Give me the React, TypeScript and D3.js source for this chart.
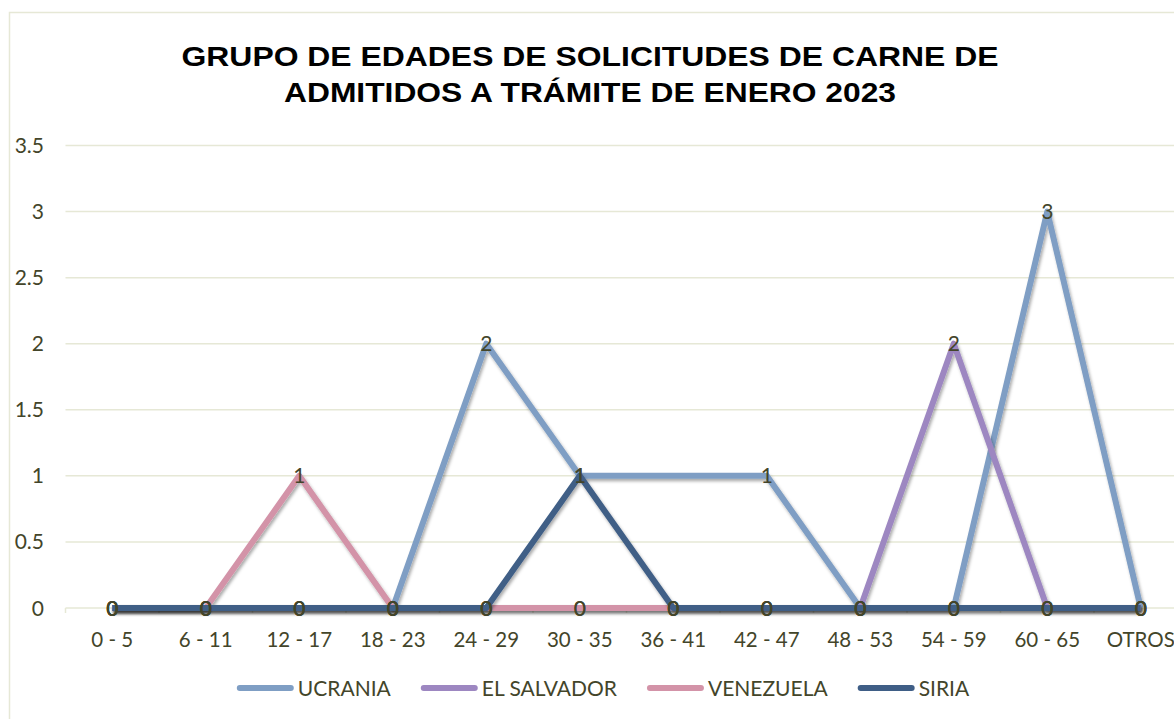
import React, { useEffect, useRef } from "react";
import * as d3 from "d3";

const categories = [
  "0 - 5", "6 - 11", "12 - 17", "18 - 23", "24 - 29", "30 - 35",
  "36 - 41", "42 - 47", "48 - 53", "54 - 59", "60 - 65", "OTROS",
];
const ucrania = [0, 0, 0, 0, 2, 1, 1, 1, 0, 0, 3, 0];
const elSalvador = [0, 0, 0, 0, 0, 0, 0, 0, 0, 2, 0, 0];
const venezuela = [0, 0, 1, 0, 0, 0, 0, 0, 0, 0, 0, 0];
const siria = [0, 0, 0, 0, 0, 1, 0, 0, 0, 0, 0, 0];
const yTicks = [0, 0.5, 1, 1.5, 2, 2.5, 3, 3.5];
// the source chart leaves this one point without a data label
const unlabelled = [{ series: "UCRANIA", category: "36 - 41" }];

const titleLines = [
  "GRUPO DE EDADES DE SOLICITUDES DE CARNE DE",
  "ADMITIDOS A TRÁMITE DE ENERO 2023",
];
const titleWidths = [817, 612];

type Series = { name: string; values: number[]; color: string };

const series: Series[] = [
  { name: "UCRANIA", values: ucrania, color: "#7f9ec4" },
  { name: "EL SALVADOR", values: elSalvador, color: "#9d87c1" },
  { name: "VENEZUELA", values: venezuela, color: "#d393a8" },
  { name: "SIRIA", values: siria, color: "#3f5e86" },
];

const App = () => {
  const svgRef = useRef<SVGSVGElement>(null);
  const width = 1174;
  const height = 719;
  const margin = { top: 145.5, left: 65.5, bottom: 608 };
  const plotRight = 65.5 + 12 * 93.5;
  const textColor = "#43452a";
  const gridColor = "#e6e8d6";
  const font = "Lato, 'Open Sans', sans-serif";
  const fontSize = 21;

  useEffect(() => {
    const svgEl = d3.select(svgRef.current);
    svgEl.selectAll("*").remove();

    const defs = svgEl.append("defs");
    defs
      .append("filter")
      .attr("id", "shadow")
      .attr("x", "-10%")
      .attr("y", "-10%")
      .attr("width", "120%")
      .attr("height", "130%")
      .append("feDropShadow")
      .attr("dx", 1.5)
      .attr("dy", 2.5)
      .attr("stdDeviation", 1.6)
      .attr("flood-color", "#000")
      .attr("flood-opacity", 0.33);

    svgEl
      .append("rect")
      .attr("width", width)
      .attr("height", height)
      .attr("fill", "#fff");

    // chart frame
    svgEl
      .append("rect")
      .attr("x", 9.5)
      .attr("y", 12.5)
      .attr("width", 1180)
      .attr("height", 720)
      .attr("fill", "none")
      .attr("stroke", gridColor)
      .attr("stroke-width", 1.5);

    const x = d3
      .scaleBand()
      .domain(categories)
      .range([margin.left, plotRight])
      .padding(0);
    const cx = (c: string) => (x(c) ?? 0) + x.bandwidth() / 2;

    const y = d3
      .scaleLinear()
      .domain([0, 3.5])
      .range([margin.bottom, margin.top]);

    // title
    svgEl
      .append("g")
      .selectAll("text")
      .data(titleLines)
      .join("text")
      .attr("x", 590)
      .attr("y", (d, i) => 66 + i * 36)
      .attr("text-anchor", "middle")
      .attr("font-family", "'Liberation Sans', Arial, sans-serif")
      .attr("font-weight", "bold")
      .attr("font-size", 28)
      .attr("textLength", (d, i) => titleWidths[i])
      .attr("lengthAdjust", "spacingAndGlyphs")
      .attr("fill", "#000")
      .text((d) => d);

    // gridlines
    svgEl
      .append("g")
      .attr("class", "grid")
      .selectAll("line")
      .data(yTicks)
      .join("line")
      .attr("x1", margin.left)
      .attr("x2", plotRight)
      .attr("y1", (d) => y(d))
      .attr("y2", (d) => y(d))
      .attr("stroke", gridColor)
      .attr("stroke-width", 1.5);

    // x axis ticks
    svgEl
      .append("g")
      .attr("class", "x-ticks")
      .selectAll("line")
      .data(categories)
      .join("line")
      .attr("x1", (d) => x(d) ?? 0)
      .attr("x2", (d) => x(d) ?? 0)
      .attr("y1", y(0))
      .attr("y2", y(0) + 5)
      .attr("stroke", gridColor)
      .attr("stroke-width", 1.5);

    // y labels
    svgEl
      .append("g")
      .attr("class", "y-axis")
      .selectAll("text")
      .data(yTicks)
      .join("text")
      .attr("x", 44)
      .attr("y", (d) => y(d))
      .attr("dy", "0.36em")
      .attr("text-anchor", "end")
      .attr("font-family", font)
      .attr("font-size", fontSize)
      .attr("fill", textColor)
      .text((d) => d3.format("")(d));

    // x labels
    svgEl
      .append("g")
      .attr("class", "x-axis")
      .selectAll("text")
      .data(categories)
      .join("text")
      .attr("x", (d) => cx(d))
      .attr("y", 647)
      .attr("text-anchor", "middle")
      .attr("font-family", font)
      .attr("font-size", 20.5)
      .attr("fill", textColor)
      .text((d) => d);

    const line = d3
      .line<number>()
      .x((d, i) => cx(categories[i]))
      .y((d) => y(d));

    svgEl
      .append("g")
      .attr("class", "lines")
      .selectAll("path")
      .data(series)
      .join("path")
      .attr("d", (d) => line(d.values))
      .attr("fill", "none")
      .attr("stroke", (d) => d.color)
      .attr("stroke-width", 6)
      .attr("stroke-linejoin", "round")
      .attr("filter", "url(#shadow)");

    // data labels
    const labels = series.flatMap((s) =>
      s.values
        .map((v, i) => ({ name: s.name, category: categories[i], value: v }))
        .filter(
          (p) => !unlabelled.some((u) => u.series === p.name && u.category === p.category)
        )
    );
    svgEl
      .append("g")
      .attr("class", "labels")
      .selectAll("text")
      .data(labels)
      .join("text")
      .attr("x", (d) => cx(d.category))
      .attr("y", (d) => y(d.value))
      .attr("dy", "0.36em")
      .attr("text-anchor", "middle")
      .attr("font-family", font)
      .attr("font-size", fontSize)
      .attr("fill", textColor)
      .text((d) => d.value);

    // legend
    const legend = svgEl.append("g").attr("class", "legend");
    const items = legend
      .selectAll("g")
      .data(series)
      .join("g");
    items
      .append("line")
      .attr("x1", 0)
      .attr("x2", 51)
      .attr("y1", 0)
      .attr("y2", 0)
      .attr("stroke", (d) => d.color)
      .attr("stroke-width", 6)
      .attr("stroke-linecap", "round");
    items
      .append("text")
      .attr("x", 58)
      .attr("dy", "0.36em")
      .attr("font-family", font)
      .attr("font-size", fontSize)
      .attr("fill", textColor)
      .text((d) => d.name);

    let offset = 0;
    const widths: number[] = [];
    items.each(function () {
      const t = d3.select(this).select("text").node() as SVGTextElement;
      widths.push(61 + t.getComputedTextLength());
    });
    const gap = 30;
    const total = d3.sum(widths) + gap * (widths.length - 1);
    const start = 603 - total / 2 + 3;
    items.attr("transform", (d, i) => {
      const tx = start + offset;
      offset += widths[i] + gap;
      return `translate(${tx},688)`;
    });
  }, []);

  return (
    <svg
      ref={svgRef}
      width={width}
      height={height}
      style={{ position: "absolute", left: 0, top: 0 }}
    />
  );
};

export default App;
